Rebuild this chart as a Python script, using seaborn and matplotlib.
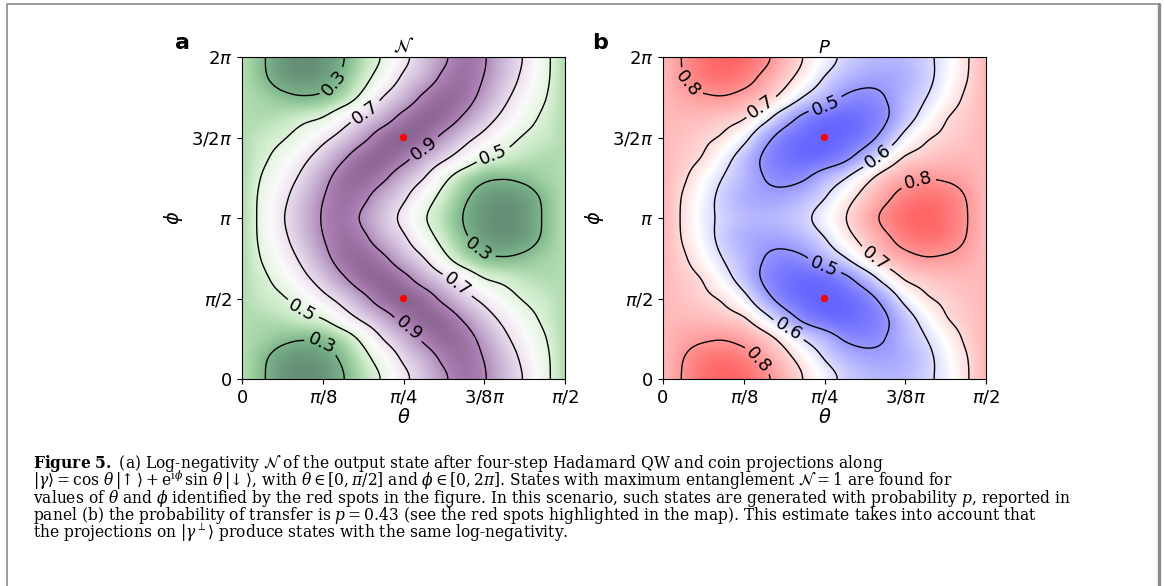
import numpy as np
import matplotlib
matplotlib.use('Agg')
import matplotlib.pyplot as plt
from matplotlib.colors import ListedColormap
from matplotlib.lines import Line2D
import seaborn as sns

# grid where the maps were read: theta in steps of pi/32, phi in steps of pi/8
theta_grid = np.linspace(0, np.pi / 2, 17)
phi_grid = np.linspace(0, 2 * np.pi, 17)

# panel a, log-negativity N, one row per phi value (phi = 0 first)
N_values = [
    [0.40, 0.314, 0.231, 0.200, 0.221, 0.294, 0.405, 0.520, 0.663, 0.778, 0.883, 0.949, 0.908, 0.799, 0.686, 0.543, 0.40],
    [0.40, 0.322, 0.246, 0.220, 0.244, 0.324, 0.445, 0.582, 0.722, 0.822, 0.923, 0.959, 0.895, 0.782, 0.664, 0.536, 0.40],
    [0.40, 0.370, 0.330, 0.310, 0.329, 0.407, 0.545, 0.704, 0.813, 0.921, 0.978, 0.954, 0.852, 0.731, 0.619, 0.509, 0.40],
    [0.40, 0.400, 0.420, 0.460, 0.502, 0.617, 0.729, 0.833, 0.936, 0.988, 0.970, 0.882, 0.768, 0.660, 0.560, 0.471, 0.40],
    [0.40, 0.443, 0.486, 0.563, 0.656, 0.756, 0.865, 0.965, 1.000, 0.965, 0.865, 0.756, 0.656, 0.563, 0.486, 0.443, 0.40],
    [0.40, 0.471, 0.560, 0.660, 0.768, 0.882, 0.970, 0.988, 0.936, 0.833, 0.729, 0.617, 0.502, 0.460, 0.420, 0.400, 0.40],
    [0.40, 0.509, 0.619, 0.731, 0.852, 0.954, 0.978, 0.921, 0.813, 0.704, 0.545, 0.407, 0.329, 0.310, 0.330, 0.370, 0.40],
    [0.40, 0.536, 0.664, 0.782, 0.895, 0.959, 0.923, 0.822, 0.722, 0.582, 0.445, 0.324, 0.244, 0.220, 0.246, 0.322, 0.40],
    [0.40, 0.543, 0.686, 0.799, 0.908, 0.949, 0.883, 0.778, 0.663, 0.520, 0.405, 0.294, 0.221, 0.200, 0.231, 0.314, 0.40],
    [0.40, 0.536, 0.664, 0.782, 0.895, 0.959, 0.923, 0.822, 0.722, 0.582, 0.445, 0.324, 0.244, 0.220, 0.246, 0.322, 0.40],
    [0.40, 0.509, 0.619, 0.731, 0.852, 0.954, 0.978, 0.921, 0.813, 0.704, 0.545, 0.407, 0.329, 0.310, 0.330, 0.370, 0.40],
    [0.40, 0.471, 0.560, 0.660, 0.768, 0.882, 0.970, 0.988, 0.936, 0.833, 0.729, 0.617, 0.502, 0.460, 0.420, 0.400, 0.40],
    [0.40, 0.443, 0.486, 0.563, 0.656, 0.756, 0.865, 0.965, 1.000, 0.965, 0.865, 0.756, 0.656, 0.563, 0.486, 0.443, 0.40],
    [0.40, 0.400, 0.420, 0.460, 0.502, 0.617, 0.729, 0.833, 0.936, 0.988, 0.970, 0.882, 0.768, 0.660, 0.560, 0.471, 0.40],
    [0.40, 0.370, 0.330, 0.310, 0.329, 0.407, 0.545, 0.704, 0.813, 0.921, 0.978, 0.954, 0.852, 0.731, 0.619, 0.509, 0.40],
    [0.40, 0.322, 0.246, 0.220, 0.244, 0.324, 0.445, 0.582, 0.722, 0.822, 0.923, 0.959, 0.895, 0.782, 0.664, 0.536, 0.40],
    [0.40, 0.314, 0.231, 0.200, 0.221, 0.294, 0.405, 0.520, 0.663, 0.778, 0.883, 0.949, 0.908, 0.799, 0.686, 0.543, 0.40],
]

# panel b, probability P, same layout
P_values = [
    [0.75, 0.805, 0.852, 0.870, 0.858, 0.817, 0.756, 0.695, 0.635, 0.583, 0.555, 0.545, 0.552, 0.583, 0.627, 0.690, 0.75],
    [0.75, 0.799, 0.839, 0.850, 0.831, 0.783, 0.728, 0.666, 0.598, 0.551, 0.525, 0.521, 0.538, 0.577, 0.635, 0.694, 0.75],
    [0.75, 0.775, 0.790, 0.795, 0.774, 0.735, 0.669, 0.594, 0.542, 0.493, 0.480, 0.500, 0.548, 0.597, 0.655, 0.710, 0.75],
    [0.75, 0.750, 0.745, 0.730, 0.707, 0.633, 0.549, 0.481, 0.449, 0.440, 0.454, 0.490, 0.563, 0.633, 0.694, 0.725, 0.75],
    [0.75, 0.735, 0.715, 0.688, 0.626, 0.534, 0.468, 0.440, 0.430, 0.440, 0.468, 0.534, 0.626, 0.688, 0.715, 0.735, 0.75],
    [0.75, 0.725, 0.694, 0.633, 0.563, 0.490, 0.454, 0.440, 0.449, 0.481, 0.549, 0.633, 0.707, 0.730, 0.745, 0.750, 0.75],
    [0.75, 0.710, 0.655, 0.597, 0.548, 0.500, 0.480, 0.493, 0.542, 0.594, 0.669, 0.735, 0.774, 0.795, 0.790, 0.775, 0.75],
    [0.75, 0.694, 0.635, 0.577, 0.538, 0.521, 0.525, 0.551, 0.598, 0.666, 0.728, 0.783, 0.831, 0.850, 0.839, 0.799, 0.75],
    [0.75, 0.690, 0.627, 0.583, 0.552, 0.545, 0.555, 0.583, 0.635, 0.695, 0.756, 0.817, 0.858, 0.870, 0.852, 0.805, 0.75],
    [0.75, 0.694, 0.635, 0.577, 0.538, 0.521, 0.525, 0.551, 0.598, 0.666, 0.728, 0.783, 0.831, 0.850, 0.839, 0.799, 0.75],
    [0.75, 0.710, 0.655, 0.597, 0.548, 0.500, 0.480, 0.493, 0.542, 0.594, 0.669, 0.735, 0.774, 0.795, 0.790, 0.775, 0.75],
    [0.75, 0.725, 0.694, 0.633, 0.563, 0.490, 0.454, 0.440, 0.449, 0.481, 0.549, 0.633, 0.707, 0.730, 0.745, 0.750, 0.75],
    [0.75, 0.735, 0.715, 0.688, 0.626, 0.534, 0.468, 0.440, 0.430, 0.440, 0.468, 0.534, 0.626, 0.688, 0.715, 0.735, 0.75],
    [0.75, 0.750, 0.745, 0.730, 0.707, 0.633, 0.549, 0.481, 0.449, 0.440, 0.454, 0.490, 0.563, 0.633, 0.694, 0.725, 0.75],
    [0.75, 0.775, 0.790, 0.795, 0.774, 0.735, 0.669, 0.594, 0.542, 0.493, 0.480, 0.500, 0.548, 0.597, 0.655, 0.710, 0.75],
    [0.75, 0.799, 0.839, 0.850, 0.831, 0.783, 0.728, 0.666, 0.598, 0.551, 0.525, 0.521, 0.538, 0.577, 0.635, 0.694, 0.75],
    [0.75, 0.805, 0.852, 0.870, 0.858, 0.817, 0.756, 0.695, 0.635, 0.583, 0.555, 0.545, 0.552, 0.583, 0.627, 0.690, 0.75],
]

N_levels = [0.3, 0.5, 0.7, 0.9]
P_levels = [0.5, 0.6, 0.7, 0.8]

# red spots: maximum entanglement
spot_theta = [np.pi / 4, np.pi / 4]
spot_phi = [np.pi / 2, 3 * np.pi / 2]

x_ticks = [0, np.pi / 8, np.pi / 4, 3 * np.pi / 8, np.pi / 2]
x_ticklabels = ['0', r'$\pi/8$', r'$\pi/4$', r'$3/8\pi$', r'$\pi/2$']
y_ticks = [0, np.pi / 2, np.pi, 3 * np.pi / 2, 2 * np.pi]
y_ticklabels = ['0', r'$\pi/2$', r'$\pi$', r'$3/2\pi$', r'$2\pi$']

# where the contour labels sit (theta, phi)
N_label_pos = [(0.429, 5.83), (0.600, 5.216), (0.885, 4.50), (1.218, 4.435),
               (1.169, 2.615), (1.047, 1.834), (0.299, 1.379), (0.812, 0.989), (0.380, 0.599)]
P_label_pos = [(0.115, 5.737), (0.462, 5.41), (0.785, 5.41), (1.052, 4.306), (1.246, 3.785),
               (1.052, 2.453), (0.785, 2.224), (0.600, 0.892), (0.462, 0.371)]

caption = '\n'.join([
    r'$\mathbf{Figure\ 5.}$ (a) Log-negativity $\mathcal{N}$ of the output state after four-step Hadamard QW and coin projections along',
    r'$|\gamma\rangle = \cos\,\theta\,|\!\uparrow\rangle + \mathrm{e}^{\mathrm{i}\phi}\,\sin\,\theta\,|\!\downarrow\rangle$, '
    r'with $\theta \in [0, \pi/2]$ and $\phi \in [0, 2\pi]$. States with maximum entanglement $\mathcal{N} = 1$ are found for',
    r'values of $\theta$ and $\phi$ identified by the red spots in the figure. In this scenario, such states are generated with probability $p$, reported in',
    r'panel (b) the probability of transfer is $p = 0.43$ (see the red spots highlighted in the map). This estimate takes into account that',
    r'the projections on $|\gamma^{\perp}\rangle$ produce states with the same log-negativity.',
])

sns.set_style('ticks', {'axes.edgecolor': 'black', 'xtick.color': 'black', 'ytick.color': 'black',
                        'text.color': 'black', 'axes.labelcolor': 'black'})
plt.rcParams['font.family'] = ['DejaVu Sans']

W, H = 1165, 586
fig = plt.figure(figsize=(W / 100, H / 100), dpi=100)


def cubic_matrix(n_coarse, n_fine, periodic):
    # cubic convolution weights (Keys, a=-0.5) to draw smooth maps from the read grid
    pos = np.linspace(0, n_coarse - 1, n_fine)
    M = np.zeros((n_fine, n_coarse))
    for r, p in enumerate(pos):
        i0 = int(np.floor(p))
        for m in range(i0 - 1, i0 + 3):
            t = abs(p - m)
            if t < 1:
                w = 1.5 * t ** 3 - 2.5 * t ** 2 + 1
            elif t < 2:
                w = -0.5 * t ** 3 + 2.5 * t ** 2 - 4 * t + 2
            else:
                w = 0.0
            idx = m % (n_coarse - 1) if periodic else min(max(m, 0), n_coarse - 1)
            M[r, idx] += w
    return M


def smooth(values, n=321):
    z = np.asarray(values, dtype=float)
    n_p, n_t = z.shape
    Mp = cubic_matrix(n_p, n, periodic=True)
    Mt = cubic_matrix(n_t, n, periodic=False)
    zf = Mp @ z @ Mt.T
    tf = np.linspace(theta_grid[0], theta_grid[-1], n)
    phf = np.linspace(phi_grid[0], phi_grid[-1], n)
    return tf, phf, zf


def light_cmap(name):
    cols = sns.color_palette(name, as_cmap=True)(np.linspace(0, 1, 256))
    cols[:, :3] = 0.6 * cols[:, :3] + 0.4
    return ListedColormap(cols)


def draw_panel(rect, values, levels, cmap_name, label_pos, title, letter, letter_x):
    ax = fig.add_axes(rect)
    tf, phf, zf = smooth(values)
    vals = np.asarray(values)
    ax.imshow(zf, extent=[0, np.pi / 2, 0, 2 * np.pi], origin='lower', aspect='auto',
              cmap=light_cmap(cmap_name), vmin=vals.min(), vmax=vals.max(), interpolation='bilinear')
    T, PH = np.meshgrid(tf, phf)
    cs = ax.contour(T, PH, zf, levels=levels, colors='black', linewidths=1.0)
    ax.clabel(cs, manual=label_pos, fmt='%.1f', fontsize=13, inline=True, inline_spacing=4)
    sns.scatterplot(x=spot_theta, y=spot_phi, color='red', s=28, edgecolor='none', ax=ax, zorder=5, legend=False)
    ax.set_xlim(0, np.pi / 2)
    ax.set_ylim(0, 2 * np.pi)
    ax.set_xticks(x_ticks)
    ax.set_xticklabels(x_ticklabels)
    ax.set_yticks(y_ticks)
    ax.set_yticklabels(y_ticklabels)
    ax.tick_params(labelsize=13)
    ax.set_xlabel(r'$\theta$', fontsize=14, labelpad=1)
    ax.set_ylabel(r'$\phi$', fontsize=14)
    ax.set_title(title, fontsize=13, pad=3)
    fig.text(letter_x / W, 1 - 43 / H, letter, fontsize=16, fontweight='bold', ha='center', va='center')
    return ax


ax_a = draw_panel([242 / W, 1 - 379 / H, 323 / W, 322 / H], N_values, N_levels, 'PRGn_r',
                  N_label_pos, r'$\mathcal{N}$', 'a', 182)
ax_b = draw_panel([663 / W, 1 - 379 / H, 323 / W, 322 / H], P_values, P_levels, 'bwr',
                  P_label_pos, r'$P$', 'b', 600)

# caption, one text block under the panels
fig.text(33 / W, 1 - 453 / H, caption, fontsize=11.2, family='DejaVu Serif',
         math_fontfamily='dejavuserif', va='top', ha='left', linespacing=0.71)

# grey frame around figure and caption
fig.add_artist(Line2D([7 / W, 7 / W, 1159 / W], [0, 1 - 4 / H, 1 - 4 / H],
                      transform=fig.transFigure, color='#8a8a8a', lw=1.2))
fig.add_artist(Line2D([1159 / W, 1159 / W], [1 - 4 / H, 0],
                      transform=fig.transFigure, color='#8a8a8a', lw=2.4))

fig.savefig('out.png', dpi=100)
